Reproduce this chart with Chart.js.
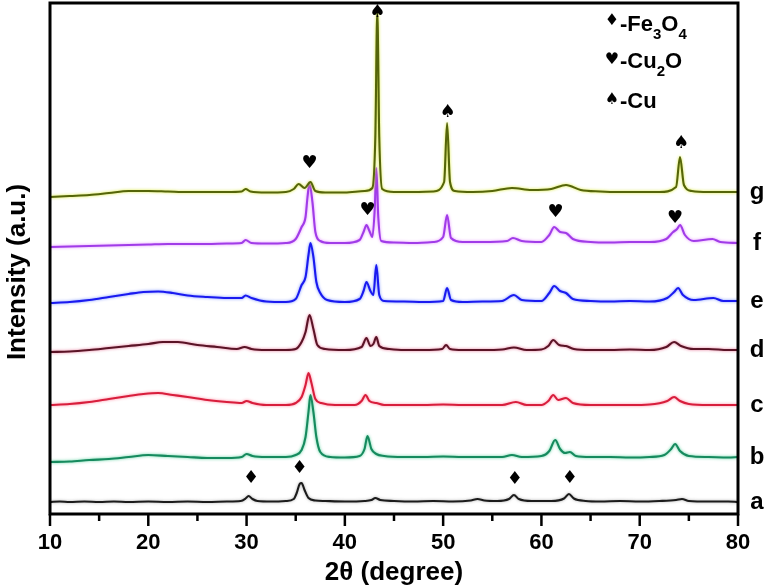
<!DOCTYPE html>
<html><head><meta charset="utf-8">
<script src="https://cdn.jsdelivr.net/npm/chart.js@4"></script>
<style>html,body{margin:0;padding:0;background:#fff}#wrap{width:770px;height:588px}</style>
</head><body><div id="wrap"><canvas id="c" width="770" height="588"></canvas></div>
<script>
// ---- data (2θ in degrees, offset intensity in a.u.) ----
const xTicks = [10, 20, 30, 40, 50, 60, 70, 80];
const seriesLabels = ['a', 'b', 'c', 'd', 'e', 'f', 'g'];

const a = [[10,15],[11,15.5],[12,15],[13.5,15.5],[15,15],[16.5,15.5],[18,15],[20,15.5],[22,15],[24,15.5],[26,15],[28,15.5],[29.4,16],[29.9,18.5],[30.2,21],[30.6,18],[31.1,16],[32.5,15.5],[34,16],[34.8,18],[35.1,24],[35.4,33],[35.6,34],[35.9,27],[36.3,19],[37,16.5],[38,16],[40,15.5],[42,16],[42.7,17],[43.1,19],[43.6,17],[45,16],[47,15.5],[49,16],[51,15.5],[52.8,16.5],[53.5,18],[54.2,16.5],[55.5,16],[56.7,18],[57.2,22],[57.7,18],[59,16],[61,16],[62.3,18.5],[62.8,23],[63.3,18.5],[64.5,16],[66,15.5],[68,16],[70,15.5],[72,16],[73.7,17],[74.3,18],[75,16],[77,15.5],[79,15.5],[80,15]];
const b = [[10,55],[12,55.5],[14,57],[16,58],[18,60],[20,62],[22,61],[24,60],[26,59],[28,59],[29.5,60],[30,63],[30.6,61],[32,60],[34,60],[35,62],[35.6,67],[36.0,80],[36.3,105],[36.5,122],[36.8,105],[37.1,80],[37.5,65],[38.5,60],[40,59.5],[41.5,61],[42.0,68],[42.3,81],[42.7,68],[43.2,63],[44,61],[46,60],[48,60],[50,60.5],[52,60],[54,60],[56,60],[57,62],[58,60],[60,61],[60.8,66],[61.4,77],[61.9,68],[62.4,64],[62.9,65],[63.5,61],[65,60],[67,60],[69,59.5],[71,60],[72.5,62],[73.2,68],[73.6,73],[74.1,66],[75,61],[77,60],[79,59.5],[80,60]];
const c = [[10,112],[12,113],[14,115],[16,118],[18,121],[19.5,123],[21,124],[22.5,122],[24,120],[26,117],[28,115],[29.5,114],[30,116],[30.6,114],[32,112],[34,112],[35,114],[35.6,120],[36.0,132],[36.3,144],[36.6,134],[37.0,118],[37.6,114],[39,112],[41,112],[41.7,116],[42.1,122],[42.5,116],[43.2,114],[44,112],[46,112],[48,112],[50,112.5],[52,112],[54,112],[56,112],[57.4,115],[58.5,112],[60,112],[60.7,116],[61.2,122],[61.7,117],[62.5,119],[63.2,114],[65,112],[67,112],[69,112],[71,112.5],[72.8,116],[73.5,120],[74.1,116],[75,113],[77,112],[79,112],[80,112]];
const d = [[10,165],[12,165.5],[14,167],[16,169],[18,171],[20,173],[21.5,175],[23,175],[25,172],[27,170],[29,168],[29.8,170],[30.5,168],[32,167],[34,167],[35,168],[35.6,175],[36.0,185],[36.4,202],[36.8,188],[37.2,172],[38,168],[40,167],[41.7,170],[42.2,179],[42.6,171],[42.9,173],[43.2,180],[43.5,171],[44.5,168],[46,167],[48,167],[49.9,168],[50.3,172],[50.7,168],[52,167],[54,167],[56,167.5],[57.2,169.5],[58.5,167],[60,167.5],[60.7,171],[61.2,177],[61.8,172],[62.5,171],[63.3,168],[65,167],[67,167],[69,167.5],[71,167],[72.7,170],[73.5,175],[74.2,171],[75.5,168],[77,168],[79,167],[80,167]];
const e = [[10,214],[12,215],[14,217],[16,220],[18,223],[19.5,225],[21,225.5],[22.5,224],[24,221.5],[26,220],[28,219],[29.5,219],[29.9,221.5],[30.5,219],[32,215.5],[34,215],[35.0,218],[35.6,232],[36.0,240],[36.3,262],[36.5,274],[36.8,260],[37.1,235],[37.5,224],[38.2,217],[40,215],[41.5,218],[41.9,226],[42.2,235],[42.6,226],[42.9,222],[43.2,252],[43.5,222],[44,216],[46,215.5],[48,215],[50,216],[50.4,229],[50.8,217],[52,215],[54,215.5],[56,216],[57.2,222],[58,217],[60,216],[60.8,224],[61.3,231],[61.9,226],[62.5,224],[63.2,218],[65,216],[67,215.5],[69,216],[71,215.5],[72.8,219],[73.5,225],[73.9,229],[74.4,222],[75.5,217],[77.5,219],[78.5,216],[80,216]];
const f = [[10,270],[12,270.5],[14,271],[16,271.5],[18,272],[20,272.5],[22,273],[24,273],[26,273],[28,273.5],[29.5,274],[29.9,277],[30.5,274],[32,273.5],[34,274],[35.0,278],[35.6,290],[36.0,300],[36.2,320],[36.4,334],[36.7,315],[37.0,285],[37.5,276],[38.5,274],[40,274],[41.5,277],[41.9,285],[42.2,292],[42.5,286],[42.8,280],[43.05,310],[43.2,349],[43.4,300],[43.7,276],[45,274.5],[47,274],[49,275],[50.0,280],[50.4,302],[50.8,279],[52,275],[54,275],[56.5,276],[57.1,279],[58,276],[60,275],[60.8,282],[61.3,290],[61.9,285],[62.5,284],[63.2,278],[65,275],[67,274.5],[69,275],[71,275],[72.7,278],[73.4,285],[73.8,288],[74.1,292],[74.6,282],[75.5,276],[77.4,278],[78.2,275],[80,274]];
const g = [[10,320],[12,321],[14,322],[16,324],[18,326],[20,326],[22,325.5],[24,325],[26,325],[28,325],[29.5,325.5],[29.9,328],[30.4,325.5],[32,324.5],[34,325],[34.8,328],[35.3,333],[35.9,329],[36.5,335],[37.0,326],[38,324.5],[40,324.5],[42,326],[42.8,329],[43.1,380],[43.3,505],[43.5,380],[43.8,328],[45,325],[47,325],[49,325.5],[50.1,335],[50.4,394],[50.7,335],[51.2,326],[53,325],[55,326],[57,329],[59,327],[61,328],[62.5,332],[64,327],[66,325.5],[68,325],[70,325],[72,325],[73.7,330],[74.1,360],[74.5,332],[75.3,326],[77,325],[79,325],[80,325]];

// phase markers
const cuX = [43.3, 50.45, 74.2];
const cuY = [505, 405, 374];
const cu2oX = [36.4, 42.3, 61.45, 73.6];
const cu2oY = [354, 307, 305, 299];
const fe3o4X = [30.45, 35.4, 57.3, 62.9];
const fe3o4Y = [39, 49, 38, 39];

const lineColors = ['#1c1c1c', '#168a5e', '#d81e3c', '#5a1426', '#1a1af0', '#a03ce8', '#55650a'];
const glowColors = ['rgba(120,120,120,0.6)', 'rgba(60,200,140,0.85)', 'rgba(255,110,140,0.85)', 'rgba(225,90,130,0.85)', 'rgba(90,120,255,0.85)', 'rgba(225,130,255,0.9)', 'rgba(215,232,40,0.95)'];
const allSeries = [a, b, c, d, e, f, g];

const FONT = '"Liberation Sans", Arial, sans-serif';

const datasets = allSeries.map((s, i) => ({
  label: seriesLabels[i],
  data: s.map(p => ({x: p[0], y: p[1]})),
  borderColor: lineColors[i],
  borderWidth: 2.1,
  pointRadius: 0,
  fill: false,
  cubicInterpolationMode: 'monotone',
  order: 7 - i
}));

const glowPlugin = {
  id: 'glow',
  beforeDatasetDraw(chart, args) {
    const ctx = chart.ctx;
    ctx.save();
    ctx.shadowColor = glowColors[args.index];
    ctx.shadowBlur = 3;
  },
  afterDatasetDraw(chart) { chart.ctx.restore(); }
};

const decoPlugin = {
  id: 'deco',
  afterDraw(chart) {
    const ctx = chart.ctx, xs = chart.scales.x, ys = chart.scales.y, ca = chart.chartArea;
    ctx.save();
    // frame
    ctx.strokeStyle = '#000';
    ctx.lineWidth = 3;
    ctx.strokeRect(ca.left, ca.top, ca.right - ca.left, ca.bottom - ca.top);
    // x tick marks (outward)
    ctx.lineWidth = 2.5;
    for (let v = 10; v <= 80; v += 5) {
      const px = xs.getPixelForValue(v);
      const len = (v % 10 === 0) ? 12 : 7;
      ctx.beginPath();
      ctx.moveTo(px, ca.bottom);
      ctx.lineTo(px, ca.bottom + len);
      ctx.stroke();
    }
    // phase markers
    ctx.fillStyle = '#000';
    ctx.textAlign = 'center';
    ctx.textBaseline = 'middle';
    ctx.font = '18px "DejaVu Sans"';
    const mark = (xsArr, ysArr, ch) => xsArr.forEach((xv, i) =>
      ctx.fillText(ch, xs.getPixelForValue(xv), ys.getPixelForValue(ysArr[i])));
    mark(cuX, cuY, '\u2660');
    mark(cu2oX, cu2oY, '\u2665');
    mark(fe3o4X, fe3o4Y, '\u2666');
    // series letters on the right
    ctx.font = 'bold 24px ' + FONT;
    allSeries.forEach((s, i) => {
      const last = s[s.length - 1][1];
      ctx.fillText(seriesLabels[i], 757, ys.getPixelForValue(last));
    });
    // y-axis title
    ctx.save();
    ctx.translate(18, 272);
    ctx.rotate(-Math.PI / 2);
    ctx.font = 'bold 26px ' + FONT;
    ctx.fillText('Intensity (a.u.)', 0, 0);
    ctx.restore();
    // legend
    const legendRows = [
      {sym: '\u2666', sy: 21, parts: [['-Fe', 0], ['3', 1], ['O', 0], ['4', 1]], base: 31},
      {sym: '\u2665', sy: 60, parts: [['-Cu', 0], ['2', 1], ['O', 0]], base: 68},
      {sym: '\u2660', sy: 100, parts: [['-Cu', 0]], base: 108}
    ];
    legendRows.forEach(r => {
      ctx.textAlign = 'center';
      ctx.textBaseline = 'middle';
      ctx.font = '16px "DejaVu Sans"';
      ctx.fillText(r.sym, 612, r.sy);
      ctx.textAlign = 'left';
      ctx.textBaseline = 'alphabetic';
      let x = 620;
      r.parts.forEach(([t, sub]) => {
        ctx.font = sub ? ('bold 15px ' + FONT) : ('bold 22px ' + FONT);
        ctx.fillText(t, x, r.base + (sub ? 8 : 0));
        x += ctx.measureText(t).width;
      });
    });
    ctx.restore();
  }
};

new Chart(document.getElementById('c'), {
  type: 'line',
  data: { datasets },
  options: {
    responsive: false,
    animation: false,
    devicePixelRatio: 1,
    layout: { padding: { left: 0, right: 32, top: 3, bottom: 0 } },
    plugins: { legend: { display: false }, tooltip: { enabled: false } },
    scales: {
      x: {
        type: 'linear', min: 10, max: 80,
        afterBuildTicks: (s) => { s.ticks = xTicks.map(v => ({value: v})); },
        afterFit: (s) => { s.height = 74; },
        grid: { display: false, drawTicks: false },
        border: { display: false },
        ticks: { color: '#000', font: { family: FONT, size: 22, weight: 'bold' }, padding: 16, maxRotation: 0 },
        title: { display: true, text: '2\u03b8 (degree)', color: '#000', font: { family: FONT, size: 26, weight: 'bold' }, padding: { top: 0, bottom: 0 } }
      },
      y: {
        type: 'linear', min: 3, max: 514,
        afterFit: (s) => { s.width = 50; },
        grid: { display: false, drawTicks: false },
        border: { display: false },
        ticks: { display: false }
      }
    }
  },
  plugins: [glowPlugin, decoPlugin]
});
</script>
</body></html>
